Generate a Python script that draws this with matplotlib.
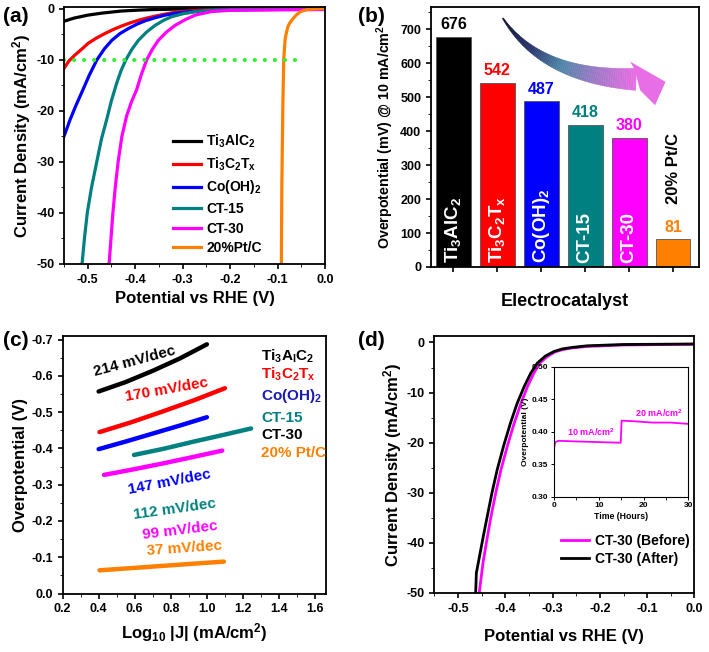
import matplotlib
matplotlib.use("Agg")
import matplotlib.pyplot as plt
import numpy as np
from matplotlib.collections import PolyCollection
from matplotlib.patches import Polygon
from matplotlib.ticker import MultipleLocator

plt.rcParams['font.family'] = ['Liberation Sans', 'DejaVu Sans']
plt.rcParams['font.weight'] = 'bold'
plt.rcParams['axes.labelweight'] = 'bold'
plt.rcParams['axes.unicode_minus'] = False
plt.rcParams['mathtext.fontset'] = 'custom'
plt.rcParams['mathtext.rm'] = 'Liberation Sans:bold'
plt.rcParams['mathtext.it'] = 'Liberation Sans:bold'
plt.rcParams['mathtext.bf'] = 'Liberation Sans:bold'
plt.rcParams['mathtext.default'] = 'rm'
plt.rcParams['axes.linewidth'] = 1.3
plt.rcParams['xtick.direction'] = 'out'
plt.rcParams['ytick.direction'] = 'out'

# ---- (a) LSV curves ----
names = ['Ti$_3$AlC$_2$', 'Ti$_3$C$_2$T$_x$', 'Co(OH)$_2$', 'CT-15', 'CT-30', '20%Pt/C']
colors = ['#000000', '#ff0000', '#0000ff', '#008080', '#ff00ff', '#ff8000']

tac_v = [-0.55, -0.53, -0.50, -0.47, -0.43, -0.39, -0.36, -0.30, -0.20, 0.0]
tac_j = [-2.5, -1.9, -1.3, -0.9, -0.5, -0.3, -0.2, -0.1, -0.05, 0.0]
tct_v = [-0.55, -0.54, -0.527, -0.512, -0.499, -0.482, -0.464, -0.446, -0.428, -0.41, -0.393,
         -0.375, -0.358, -0.34, -0.323, -0.295, -0.267, -0.20, 0.0]
tct_j = [-11.7, -10.3, -9.1, -7.9, -6.8, -5.8, -4.9, -4.1, -3.4, -2.8, -2.3,
         -1.85, -1.5, -1.15, -0.85, -0.55, -0.33, -0.15, 0.0]
coh_v = [-0.55, -0.537, -0.525, -0.513, -0.497, -0.481, -0.465, -0.449, -0.432, -0.414, -0.397,
         -0.379, -0.358, -0.337, -0.312, -0.288, -0.24, -0.15, 0.0]
coh_j = [-25.0, -21.7, -19.0, -16.5, -13.1, -10.1, -7.9, -6.2, -4.9, -3.9, -3.1,
         -2.4, -1.8, -1.3, -0.9, -0.65, -0.35, -0.2, -0.1]
ct15_v = [-0.512, -0.507, -0.501, -0.492, -0.481, -0.471, -0.460, -0.450, -0.439, -0.430, -0.420,
          -0.407, -0.393, -0.376, -0.358, -0.340, -0.323, -0.298, -0.274, -0.253, -0.2, 0.0]
ct15_j = [-50, -45, -40, -35, -30, -25.5, -21.7, -18, -14.6, -12.2, -10.1,
          -8.0, -6.2, -4.6, -3.3, -2.3, -1.6, -1.0, -0.65, -0.4, -0.25, -0.1]
ct30_v = [-0.455, -0.451, -0.447, -0.442, -0.436, -0.428, -0.418, -0.408, -0.397, -0.387, -0.376,
          -0.364, -0.351, -0.334, -0.316, -0.295, -0.274, -0.24, -0.2, 0.0]
ct30_j = [-50, -45, -40, -35, -30, -25, -21.0, -18.3, -15.9, -12.9, -10.1,
          -8.0, -6.2, -4.6, -3.3, -2.2, -1.3, -0.6, -0.35, -0.2]
pt_v = [-0.092, -0.091, -0.089, -0.087, -0.084, -0.081, -0.078, -0.074, -0.070, -0.062, -0.053,
        -0.044, -0.035, -0.015, 0.0]
pt_j = [-50, -35, -20, -10, -6, -4.6, -3.5, -2.8, -2.3, -1.4, -0.7, -0.35, -0.15, -0.05, 0.0]
ref_j = -10
ref_v = [-0.55, -0.053]

# ---- (b) overpotential bars ----
bar_labels = ['Ti$_3$AlC$_2$', 'Ti$_3$C$_2$T$_x$', 'Co(OH)$_2$', 'CT-15', 'CT-30', '20% Pt/C']
eta10 = [676, 542, 487, 418, 380, 81]

# ---- (c) Tafel ----
tafel_names = ['Ti$_3$A$_l$C$_2$', 'Ti$_3$C$_2$T$_x$', 'Co(OH)$_2$', 'CT-15', 'CT-30', '20% Pt/C']
tafel_name_colors = ['#000000', '#ff0000', '#1a1ab4', '#008080', '#000000', '#ff8000']
slopes = ['214 mV/dec', '170 mV/dec', '147 mV/dec', '112 mV/dec', '99 mV/dec', '37 mV/dec']
taf_x = [[0.40, 0.55, 0.70, 0.85, 1.00],
         [0.405, 0.58, 0.75, 0.93, 1.10],
         [0.40, 0.55, 0.70, 0.85, 1.00],
         [0.596, 0.76, 0.92, 1.08, 1.245],
         [0.43, 0.59, 0.76, 0.92, 1.085],
         [0.405, 0.58, 0.75, 0.92, 1.094]]
taf_y = [[-0.557, -0.583, -0.614, -0.648, -0.687],
         [-0.445, -0.472, -0.501, -0.533, -0.566],
         [-0.398, -0.419, -0.441, -0.463, -0.486],
         [-0.382, -0.399, -0.418, -0.436, -0.455],
         [-0.327, -0.342, -0.359, -0.376, -0.394],
         [-0.064, -0.070, -0.076, -0.082, -0.088]]

# ---- (d) stability ----
before_v = [-0.455, -0.451, -0.447, -0.439, -0.430, -0.420, -0.409, -0.395, -0.381, -0.367, -0.353,
            -0.340, -0.327, -0.311, -0.295, -0.278, -0.26, -0.227, -0.15, 0.0]
before_j = [-50, -47, -44, -39.5, -34.7, -30, -25.4, -20.5, -16.1, -12.2, -8.8,
            -6.2, -4.1, -2.8, -1.9, -1.4, -1.1, -0.8, -0.5, -0.35]
after_v = [-0.4625, -0.461, -0.458, -0.455, -0.447, -0.438, -0.428, -0.417, -0.403, -0.389, -0.375,
           -0.360, -0.346, -0.332, -0.315, -0.297, -0.28, -0.26, -0.227, -0.15, 0.0]
after_j = [-50, -46, -44.5, -43, -39, -34.7, -30, -25.4, -20.5, -16.1, -12.2,
           -8.8, -6.1, -4.1, -2.7, -1.8, -1.3, -1.0, -0.66, -0.4, -0.3]
time_h = [0, 0.3, 1, 5, 10, 14.9, 15.0, 15.1, 18, 22, 26, 30]
eta_t = [0.375, 0.384, 0.386, 0.385, 0.384, 0.383, 0.400, 0.417, 0.416, 0.414, 0.414, 0.412]

fig = plt.figure(figsize=(7.09, 6.52), dpi=100)
axa = fig.add_axes([0.0903, 0.5951, 0.3681, 0.3942])
axb = fig.add_axes([0.6079, 0.5905, 0.3780, 0.3988])
axc = fig.add_axes([0.0882, 0.0897, 0.3716, 0.3950])
axd = fig.add_axes([0.6125, 0.0905, 0.3670, 0.3942])
axi = fig.add_axes([0.7814, 0.2382, 0.1894, 0.1994])

# (a)
series = [(tac_v, tac_j), (tct_v, tct_j), (coh_v, coh_j), (ct15_v, ct15_j), (ct30_v, ct30_j), (pt_v, pt_j)]
for (v, j), c, n in zip(series, colors, names):
    axa.plot(v, j, color=c, lw=2.3, label=n)
axa.plot(ref_v, [ref_j, ref_j], color='#33ee33', lw=3, linestyle=(0, (0.01, 2.4)),
         dash_capstyle='round')
axa.set_xlim(-0.55, 0.0)
axa.set_ylim(-50, 0.3)
axa.xaxis.set_major_locator(MultipleLocator(0.1))
axa.xaxis.set_minor_locator(MultipleLocator(0.05))
axa.yaxis.set_major_locator(MultipleLocator(10))
axa.yaxis.set_minor_locator(MultipleLocator(5))
axa.tick_params(labelsize=9, width=1.2)
axa.set_xlabel('Potential vs RHE (V)', fontsize=12, labelpad=4)
axa.set_ylabel('Current Density (mA/cm$^2$)', fontsize=12, labelpad=2)
axa.legend(loc='upper left', bbox_to_anchor=(0.37, 0.56), frameon=False, fontsize=10,
           handlelength=2.0, handletextpad=0.4, labelspacing=0.4)
fig.text(0.004, 0.99, '(a)', fontsize=15, va='top')

# (b)
xb = np.arange(len(eta10))
axb.bar(xb, eta10, width=0.79, color=colors, edgecolor='#555555', linewidth=0.6)
for i, v in enumerate(eta10):
    axb.text(xb[i], v + 14, str(v), color=colors[i], fontsize=11.5, ha='center', va='bottom')
for i, lab in enumerate(bar_labels[:5]):
    axb.text(xb[i], 12, lab, color='white', fontsize=13.5, rotation=90, ha='center', va='bottom')
axb.text(xb[5], 290, bar_labels[5], color='black', fontsize=12, rotation=90, ha='center', va='center')
axb.set_xlim(-0.51, 5.59)
axb.set_ylim(0, 765)
axb.set_xticks(xb)
axb.set_xticklabels([])
axb.yaxis.set_major_locator(MultipleLocator(100))
axb.yaxis.set_minor_locator(MultipleLocator(50))
axb.tick_params(labelsize=9, width=1.2)
axb.set_xlabel('Electrocatalyst', fontsize=13, labelpad=12)
axb.set_ylabel('Overpotential (mV) @ 10 mA/cm$^2$', fontsize=10.3, labelpad=3)
fig.text(0.505, 0.99, '(b)', fontsize=15, va='top')

# gradient arrow in (b)
aw, ah = 268.0, 260.0
p0 = np.array([0.268 * aw, 0.957 * ah])
p1 = np.array([0.41 * aw, 0.73 * ah])
p2 = np.array([0.765 * aw, 0.722 * ah])
t = np.linspace(0, 1, 80)
pts = ((1 - t) ** 2)[:, None] * p0 + (2 * (1 - t) * t)[:, None] * p1 + (t ** 2)[:, None] * p2
d = np.gradient(pts, axis=0)
nrm = np.stack([-d[:, 1], d[:, 0]], axis=1)
nrm /= np.linalg.norm(nrm, axis=1)[:, None]
hw = 0.6 + 10.5 * t ** 1.1
up = pts + nrm * hw[:, None]
lo = pts - nrm * hw[:, None]
stops = [0.0, 0.3, 0.55, 0.78, 1.0]
stop_cols = np.array([[11, 15, 42], [39, 51, 107], [79, 134, 168], [160, 120, 200], [232, 110, 228]]) / 255.
quads, qcols = [], []
for k in range(len(t) - 1):
    q = np.array([up[k], up[k + 1], lo[k + 1], lo[k]]) / [aw, ah]
    quads.append(q)
    tm = (t[k] + t[k + 1]) / 2
    qcols.append([np.interp(tm, stops, stop_cols[:, m]) for m in range(3)])
axb.add_collection(PolyCollection(quads, facecolors=qcols, edgecolors=qcols, linewidths=0.3,
                                  transform=axb.transAxes, clip_on=False))
axb.add_patch(Polygon([[0.743, 0.790], [0.875, 0.712], [0.836, 0.622], [0.78, 0.68], [0.76, 0.76]],
                      closed=True, facecolor='#e86ee6', edgecolor='none', transform=axb.transAxes))

# (c)
for k in range(6):
    axc.plot(taf_x[k], taf_y[k], color=colors[k], lw=3.2, solid_capstyle='round')
slope_pos = [(0.60, -0.640, 15), (0.775, -0.561, 10), (0.79, -0.306, 11), (0.82, -0.233, 8),
             (0.85, -0.174, 7), (0.875, -0.124, 4)]
for k, (x, y, r) in enumerate(slope_pos):
    axc.text(x, y, slopes[k], color=colors[k], fontsize=11, rotation=r, ha='center', va='center')
name_y = [-0.655, -0.605, -0.545, -0.485, -0.436, -0.387]
for k in range(6):
    axc.text(1.30, name_y[k], tafel_names[k], color=tafel_name_colors[k], fontsize=11,
             ha='left', va='center')
axc.set_xlim(0.2, 1.66)
axc.set_ylim(0, -0.71)
axc.xaxis.set_major_locator(MultipleLocator(0.2))
axc.xaxis.set_minor_locator(MultipleLocator(0.1))
axc.yaxis.set_major_locator(MultipleLocator(0.1))
axc.yaxis.set_minor_locator(MultipleLocator(0.05))
axc.tick_params(labelsize=9, width=1.2)
axc.set_xlabel('Log$_{10}$ |J| (mA/cm$^2$)', fontsize=12, labelpad=4)
axc.set_ylabel('Overpotential (V)', fontsize=12, labelpad=2)
fig.text(0.004, 0.492, '(c)', fontsize=15, va='top')

# (d)
axd.plot(before_v, before_j, color='#ff00ff', lw=2.0, label='CT-30 (Before)')
axd.plot(after_v, after_j, color='#000000', lw=2.0, label='CT-30 (After)')
axd.set_xlim(-0.55, 0.0)
axd.set_ylim(-50, 1.3)
axd.xaxis.set_major_locator(MultipleLocator(0.1))
axd.xaxis.set_minor_locator(MultipleLocator(0.05))
axd.yaxis.set_major_locator(MultipleLocator(10))
axd.yaxis.set_minor_locator(MultipleLocator(5))
axd.tick_params(labelsize=9, width=1.2)
axd.set_xlabel('Potential vs RHE (V)', fontsize=12, labelpad=10)
axd.set_ylabel('Current Density (mA/cm$^2$)', fontsize=12, labelpad=2)
axd.legend(loc='upper left', bbox_to_anchor=(0.44, 0.28), frameon=False, fontsize=10,
           handlelength=2.0, handletextpad=0.4, labelspacing=0.3)
fig.text(0.505, 0.492, '(d)', fontsize=15, va='top')

# inset
axi.plot(time_h, eta_t, color='#ff00ff', lw=1.3)
axi.text(2.8, 0.400, '10 mA/cm$^2$', color='#ff00ff', fontsize=6.5, ha='left', va='center')
axi.text(18.0, 0.428, '20 mA/cm$^2$', color='#ff00ff', fontsize=6.5, ha='left', va='center')
axi.set_xlim(0, 30)
axi.set_ylim(0.30, 0.50)
axi.xaxis.set_major_locator(MultipleLocator(10))
axi.xaxis.set_minor_locator(MultipleLocator(5))
axi.yaxis.set_major_locator(MultipleLocator(0.05))
for sp in axi.spines.values():
    sp.set_linewidth(0.8)
axi.tick_params(labelsize=6, width=0.7, length=2.5, pad=1.5)
axi.set_xlabel('Time (Hours)', fontsize=6.3, labelpad=2)
axi.set_ylabel('Overpotential (V)', fontsize=6, labelpad=2)

fig.savefig('out.png', dpi=100)
